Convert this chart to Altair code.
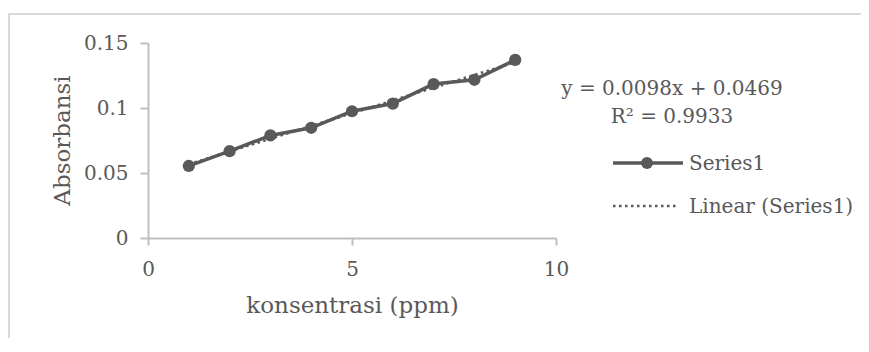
import altair as alt
import pandas as pd

# ---- data ----
conc = [1, 2, 3, 4, 5, 6, 7, 8, 9]
absorb = [0.0554, 0.0668, 0.0789, 0.0848, 0.0975, 0.1034, 0.1184, 0.1217, 0.1370]
eq_lines = ["y = 0.0098x + 0.0469", "R\u00b2 = 0.9933"]
legend_labels = ["Series1", "Linear (Series1)"]
x_ticks = [0, 5, 10]
y_ticks = [0, 0.05, 0.1, 0.15]
x_title = "konsentrasi (ppm)"
y_title = "Absorbansi"

df = pd.DataFrame({"x": conc, "y": absorb})
one = pd.DataFrame({"k": [0]})

W, H = 408, 195
FONT = "DejaVu Serif"
GRAY = "#595959"
AXIS_GRAY = "#bfbfbf"
DOTS = [2.5, 3.5]

xenc = alt.X(
    "x:Q",
    scale=alt.Scale(domain=[0, 10], nice=False, zero=False),
    axis=alt.Axis(values=x_ticks, title=x_title, tickSize=7, labelPadding=14,
                  titleX=204, titleY=74, titleBaseline="alphabetic", labelFlush=False),
)
yenc = alt.Y(
    "y:Q",
    scale=alt.Scale(domain=[0, 0.15], nice=False),
    axis=alt.Axis(values=y_ticks, labelExpr="format(datum.value, '.2~f')", title=y_title,
                  tickSize=8, labelPadding=12,
                  titleX=-86, titleY=97, titleBaseline="middle"),
)

border = alt.Chart(one).mark_rect(fillOpacity=0, stroke="#d9d9d9", strokeWidth=2).encode(
    x=alt.value(-139), x2=alt.value(900), y=alt.value(-29), y2=alt.value(500)
)

series = alt.Chart(df).mark_line(color=GRAY, strokeWidth=3.5).encode(x=xenc, y=yenc)
points = alt.Chart(df).mark_point(filled=True, size=150, color=GRAY, opacity=1).encode(x=xenc, y=yenc)
trend = (
    alt.Chart(df)
    .transform_regression("x", "y")
    .mark_line(color=GRAY, strokeWidth=2.5, strokeDash=DOTS)
    .encode(x=xenc, y=yenc)
)

txt_style = dict(font=FONT, fontSize=20, color=GRAY)
eq1 = alt.Chart(pd.DataFrame({"t": [eq_lines[0]]})).mark_text(align="center", baseline="alphabetic", **txt_style).encode(
    text="t:N", x=alt.value(524), y=alt.value(52))
eq2 = alt.Chart(pd.DataFrame({"t": [eq_lines[1]]})).mark_text(align="center", baseline="alphabetic", **txt_style).encode(
    text="t:N", x=alt.value(524), y=alt.value(80))

leg_line = alt.Chart(one).mark_rule(color=GRAY, strokeWidth=3.5).encode(
    x=alt.value(465), x2=alt.value(535), y=alt.value(120))
leg_dot = alt.Chart(one).mark_point(filled=True, size=140, color=GRAY, opacity=1).encode(
    x=alt.value(499), y=alt.value(120))
leg_dash = alt.Chart(one).mark_rule(color=GRAY, strokeWidth=2.5, strokeDash=DOTS).encode(
    x=alt.value(465), x2=alt.value(528), y=alt.value(163))
leg_t1 = alt.Chart(pd.DataFrame({"t": [legend_labels[0]]})).mark_text(align="left", baseline="alphabetic", **txt_style).encode(
    text="t:N", x=alt.value(541), y=alt.value(127))
leg_t2 = alt.Chart(pd.DataFrame({"t": [legend_labels[1]]})).mark_text(align="left", baseline="alphabetic", **txt_style).encode(
    text="t:N", x=alt.value(541), y=alt.value(170))

chart = (
    alt.layer(border, series, trend, points, eq1, eq2, leg_line, leg_dot, leg_dash, leg_t1, leg_t2)
    .properties(
        width=W, height=H,
        autosize=alt.AutoSizeParams(type="none"),
        padding={"left": 140, "top": 35, "right": 305, "bottom": 100},
    )
    .configure_view(stroke=None)
    .configure_axis(
        grid=False,
        domainColor=AXIS_GRAY, domainWidth=2,
        tickColor=AXIS_GRAY, tickWidth=2,
        labelFont=FONT, labelFontSize=20, labelColor=GRAY,
        titleFont=FONT, titleFontSize=23, titleColor=GRAY, titleFontWeight="normal",
    )
)

chart.save("out.html", embed_options={"renderer": "svg", "actions": False})
